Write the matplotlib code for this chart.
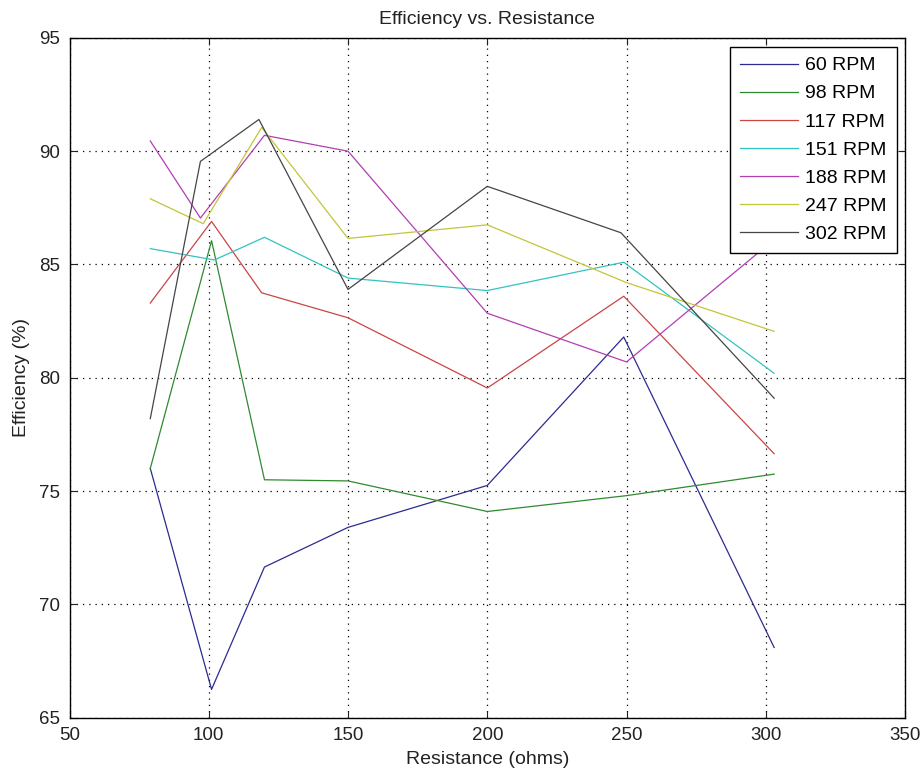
import matplotlib
matplotlib.use('Agg')
import matplotlib.pyplot as plt

plt.rcParams['font.family'] = ['Liberation Sans', 'DejaVu Sans']

# Resistance (ohms) for each run - the second point shifts a little per run
r_60 = [79, 101, 120, 150, 200, 249, 303]
r_98 = [79, 101, 120, 150, 200, 250, 303]
r_117 = [79, 101, 119, 150, 200, 249, 303]
r_151 = [79, 102, 120, 150, 200, 249, 303]
r_188 = [79, 97, 120, 150, 200, 250, 303]
r_247 = [79, 98, 119, 150, 200, 250, 303]
r_302 = [79, 97, 118, 150, 200, 248, 303]

# Efficiency (%)
eff_60 = [76.0, 66.25, 71.65, 73.4, 75.25, 81.8, 68.1]
eff_98 = [76.0, 86.05, 75.5, 75.45, 74.1, 74.8, 75.75]
eff_117 = [83.3, 86.9, 83.75, 82.65, 79.55, 83.6, 76.65]
eff_151 = [85.7, 85.2, 86.2, 84.4, 83.85, 85.1, 80.2]
eff_188 = [90.45, 87.05, 90.7, 90.0, 82.85, 80.7, 86.1]
eff_247 = [87.9, 86.8, 91.05, 86.15, 86.75, 84.2, 82.05]
eff_302 = [78.2, 89.55, 91.4, 83.9, 88.45, 86.4, 79.1]

labels = ['60 RPM', '98 RPM', '117 RPM', '151 RPM', '188 RPM', '247 RPM', '302 RPM']
colors = ['#2b2b92', '#2f8a2f', '#cc4444', '#33c2c2', '#b13fb1', '#c4c43a', '#454545']

runs = [(r_60, eff_60), (r_98, eff_98), (r_117, eff_117), (r_151, eff_151),
        (r_188, eff_188), (r_247, eff_247), (r_302, eff_302)]

fig = plt.figure(figsize=(9.22, 7.73), dpi=100)
ax = fig.add_axes([0.0754, 0.0715, 0.9062, 0.8795])

for (r, e), lab, col in zip(runs, labels, colors):
    ax.plot(r, e, color=col, linewidth=0.9, label=lab)

ax.set_xlim(50, 350)
ax.set_ylim(65, 95)
ax.set_xticks(range(50, 351, 50))
ax.set_yticks(range(65, 96, 5))

# MATLAB style: dotted grid, ticks inward on all four sides
ax.grid(True, color='black', linestyle=(0, (1, 4)), linewidth=0.9)
ax.tick_params(direction='in', top=True, right=True, length=5, width=0.8,
               labelsize=13.5, pad=7, colors='#222222')
for s in ax.spines.values():
    s.set_linewidth(1.0)
    s.set_color('black')

ax.set_title('Efficiency vs. Resistance', fontsize=14, pad=10, color='#222222')
ax.set_xlabel('Resistance (ohms)', fontsize=14, labelpad=5, color='#222222')
ax.set_ylabel('Efficiency (%)', fontsize=14, labelpad=6, color='#222222')

leg = ax.legend(loc='upper right', bbox_to_anchor=(0.990, 0.9866), borderaxespad=0,
                fontsize=14, handlelength=3.0, handletextpad=0.36, labelspacing=0.54,
                borderpad=0.5, fancybox=False, framealpha=1, edgecolor='black')
leg.get_frame().set_linewidth(1.0)

fig.savefig('out.png', dpi=100)
